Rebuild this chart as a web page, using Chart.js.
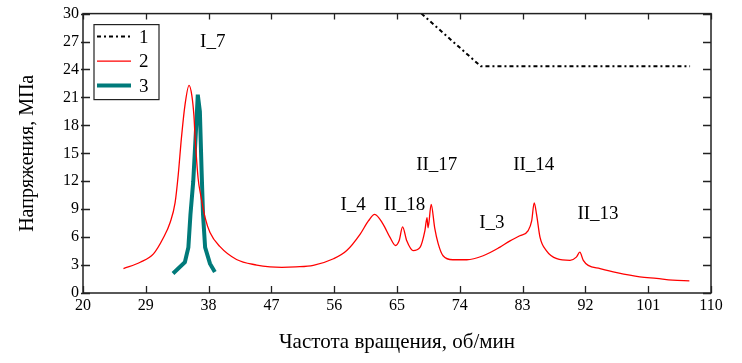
<!DOCTYPE html>
<html lang="ru">
<head>
<meta charset="utf-8">
<script src="https://cdn.jsdelivr.net/npm/chart.js@4/dist/chart.umd.min.js"></script>
<style>
  html, body { margin: 0; padding: 0; background: #fff; }
  #wrap { width: 742px; height: 363px; }
</style>
</head>
<body>
<div id="wrap"><canvas id="grafico" width="742" height="363"></canvas></div>
<script>
/* ============================
   DATI
============================ */

// 1 - limite (tratto-punto)
const chastota1 = [68.5, 77, 107];
const napr1 = [30, 24.35, 24.35];

// 2 - curva rossa
const chastota2 = [25.8, 28.2, 30.1, 31.5, 32.5, 33.2, 33.65, 34.1, 34.6, 35.2,
  35.6, 35.9, 36.05, 36.5, 36.85, 37.5, 38.2, 39.6, 42.0, 44.9,
  46.8, 48.5, 50.5, 53.0, 55.9, 57.8, 59.7, 60.9, 61.8, 63.0,
  64.0, 64.8, 65.3, 65.8, 66.4, 67.3, 68.3, 69.0, 69.3, 69.45,
  69.9, 70.4, 70.9, 71.6, 73.0, 75.0, 77.35, 79.7, 81.2, 82.6,
  83.8, 84.3, 84.66, 85.0, 85.5, 86.4, 87.9, 89.8, 90.7, 91.2,
  91.7, 92.4, 94.1, 96.5, 99.8, 102.2, 104.5, 106.9];
const napr2 = [2.62, 3.3, 4.2, 5.9, 7.6, 9.7, 12.7, 16.6, 20.1, 22.3,
  21.2, 19.0, 16.9, 12.3, 10.6, 8.1, 6.5, 5.0, 3.6, 3.0,
  2.8, 2.75, 2.8, 2.97, 3.68, 4.56, 6.3, 7.74, 8.45, 7.4,
  5.97, 5.1, 5.6, 7.1, 5.6, 4.56, 4.9, 6.7, 8.1, 7.0,
  9.5, 7.0, 5.3, 4.0, 3.57, 3.57, 4.0, 4.9, 5.6, 6.15,
  6.7, 7.74, 9.68, 8.45, 5.97, 4.56, 3.68, 3.5, 3.85, 4.38,
  3.5, 2.97, 2.62, 2.19, 1.73, 1.56, 1.38, 1.3];

// 3 - curva verde
const chastota3 = [32.9, 34.6, 35.1, 35.4, 35.8, 36.05, 36.3, 36.45, 36.75, 37.0, 37.2, 37.5, 38.2, 38.9];
const napr3 = [2.09, 3.3, 4.9, 8.45, 12.0, 15.5, 19.05, 21.3, 19.5, 13.0, 8.45, 4.9, 3.15, 2.26];

// etichette delle risonanze (coordinate in unita' degli assi)
const metki = ['I_7', 'I_4', 'II_18', 'II_17', 'II_14', 'I_3', 'II_13'];
const metkiX = [38.6, 58.7, 66.1, 70.7, 84.6, 78.6, 93.8];
const metkiY = [26.9, 9.5, 9.5, 13.7, 13.7, 7.5, 8.5];

const nomiSerie = ['1', '2', '3'];

const punti = (xs, ys) => xs.map((x, i) => ({ x, y: ys[i] }));

/* ============================
   PLUGIN: cornice, tacche, legenda, etichette
============================ */

const SERIF = '"Liberation Serif", "Times New Roman", serif';

const cornice = {
  id: 'cornice',
  afterDatasetsDraw(chart) {
    const { ctx, chartArea: a, scales } = chart;
    const sx = scales.x, sy = scales.y;
    ctx.save();

    // tacche
    ctx.strokeStyle = '#222';
    ctx.lineWidth = 1.3;
    ctx.beginPath();
    sx.ticks.forEach(t => {
      const px = Math.round(sx.getPixelForValue(t.value)) + 0.5;
      ctx.moveTo(px, a.bottom); ctx.lineTo(px, a.bottom - 7);
      ctx.moveTo(px, a.top); ctx.lineTo(px, a.top + 6);
    });
    sy.ticks.forEach(t => {
      const py = Math.round(sy.getPixelForValue(t.value)) + 0.5;
      ctx.moveTo(a.left - 2, py); ctx.lineTo(a.left + 7, py);
      ctx.moveTo(a.right, py); ctx.lineTo(a.right - 8, py);
    });
    ctx.stroke();

    // cornice
    ctx.lineWidth = 1.5;
    ctx.strokeRect(a.left, a.top, a.right - a.left, a.bottom - a.top);

    // etichette
    ctx.fillStyle = '#000';
    ctx.font = '19px ' + SERIF;
    ctx.textAlign = 'center';
    ctx.textBaseline = 'middle';
    metki.forEach((m, i) => {
      ctx.fillText(m, sx.getPixelForValue(metkiX[i]), sy.getPixelForValue(metkiY[i]));
    });

    // legenda
    const lx = a.left + 11, ly = a.top + 11;
    ctx.fillStyle = '#fff';
    ctx.fillRect(lx, ly, 65, 75);
    ctx.lineWidth = 1.2;
    ctx.strokeStyle = '#222';
    ctx.strokeRect(lx, ly, 65, 75);
    ctx.font = '19px ' + SERIF;
    ctx.textAlign = 'left';
    chart.data.datasets.forEach((d, i) => {
      const y = ly + 12 + i * 24.5;
      ctx.save();
      ctx.strokeStyle = d.borderColor;
      ctx.lineWidth = d.borderWidth;
      ctx.setLineDash(d.borderDash || []);
      ctx.beginPath();
      ctx.moveTo(lx + 3, y);
      ctx.lineTo(lx + 37, y);
      ctx.stroke();
      ctx.restore();
      ctx.fillStyle = '#000';
      ctx.fillText(d.label, lx + 45, y + 1);
    });

    ctx.restore();
  }
};

/* ============================
   GRAFICO
============================ */

new Chart(document.getElementById('grafico'), {
  type: 'line',
  data: {
    datasets: [
      {
        label: nomiSerie[0],
        data: punti(chastota1, napr1),
        borderColor: '#000',
        borderWidth: 2,
        borderDash: [4, 3, 2, 3],
        pointRadius: 0,
        tension: 0
      },
      {
        label: nomiSerie[1],
        data: punti(chastota2, napr2),
        borderColor: '#ff0000',
        borderWidth: 1.3,
        pointRadius: 0,
        cubicInterpolationMode: 'monotone'
      },
      {
        label: nomiSerie[2],
        data: punti(chastota3, napr3),
        borderColor: '#007a7a',
        borderWidth: 4,
        pointRadius: 0,
        tension: 0
      }
    ]
  },
  options: {
    responsive: false,
    animation: false,
    layout: { padding: { top: 10, right: 31, left: 0, bottom: 0 } },
    plugins: {
      legend: { display: false },
      tooltip: { enabled: false }
    },
    scales: {
      x: {
        type: 'linear',
        min: 20,
        max: 110,
        grid: { display: false, drawTicks: false, tickLength: 0 },
        border: { display: false },
        ticks: {
          stepSize: 9,
          padding: 3,
          color: '#000',
          font: { family: SERIF, size: 16 }
        },
        title: {
          display: true,
          text: 'Частота вращения, об/мин',
          color: '#000',
          font: { family: SERIF, size: 21 },
          padding: { top: 0, bottom: 8 }
        },
        afterFit: s => { s.height = 70; }
      },
      y: {
        min: 0,
        max: 30,
        grid: { display: false, drawTicks: false, tickLength: 0 },
        border: { display: false },
        ticks: {
          stepSize: 3,
          padding: 4,
          color: '#000',
          font: { family: SERIF, size: 16 }
        },
        title: {
          display: true,
          text: 'Напряжения, МПа',
          color: '#000',
          font: { family: SERIF, size: 20 },
          padding: { top: 16, bottom: 0 }
        },
        afterFit: s => { s.width = 83; }
      }
    }
  },
  plugins: [cornice]
});
</script>
</body>
</html>
